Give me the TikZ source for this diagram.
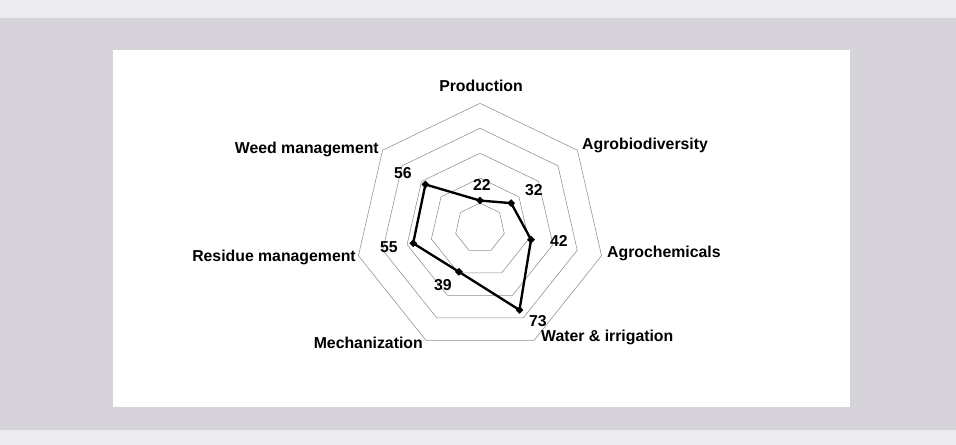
\documentclass[tikz,border=0pt]{standalone}
\usepackage{fontspec}
\setmainfont{Liberation Sans}
\usetikzlibrary{shapes.geometric}

\definecolor{pagegray}{RGB}{214,211,218}
\definecolor{pagelight}{RGB}{236,235,239}

\tikzset{
  axislabel/.style={font=\fontsize{13.5}{16}\selectfont\bfseries, inner sep=0pt},
  vallabel/.style={font=\fontsize{13.5}{16}\selectfont\bfseries, inner sep=0pt},
  ring/.style={draw=black!45, line width=0.45pt},
  score/.style={line width=2pt, line join=round},
  datamark/.style={diamond, fill=black, inner sep=0pt, minimum size=0.24cm}
}

\begin{document}
\begin{tikzpicture}
% page and white plot area
\fill[pagelight] (-14.4,-6.51) rectangle (14.28,6.84);
\fill[pagegray] (-14.4,-6.06) rectangle (14.28,6.3);
\fill[white] (-11.01,-5.37) rectangle (11.1,5.34);
\useasboundingbox (-14.4,-6.51) rectangle (14.28,6.84);

% grid rings
\foreach \r in {1,...,5}
  \draw[ring] (90:{0.748*\r}) \foreach \a in {1,...,6} { -- ({90-\a*360/7}:{0.748*\r}) } -- cycle;

% scores
\foreach \v [count=\i] in {22,32,42,73,39,55,56}
  \coordinate (p\i) at ({90-(\i-1)*360/7}:{\v*0.0374});
\draw[score] (p1) -- (p2) -- (p3) -- (p4) -- (p5) -- (p6) -- (p7) -- cycle;
\foreach \i in {1,...,7}
  \node[datamark] (m\i) at (p\i) {};

% axis labels
\node[axislabel] (production) at (0.03,4.26) {Production};
\node[axislabel, anchor=west] (agrobio) at (3.06,2.49) {Agrobiodiversity};
\node[axislabel, anchor=west] (agrochem) at (3.81,-0.75) {Agrochemicals};
\node[axislabel, anchor=west] (water) at (1.83,-3.27) {Water \& irrigation};
\node[axislabel, anchor=east] (mechanization) at (-1.71,-3.45) {Mechanization};
\node[axislabel, anchor=east] (residue) at (-3.72,-0.87) {Residue management};
\node[axislabel, anchor=east] (weed) at (-3.03,2.37) {Weed management};

% values
\node[vallabel] (v1) at (0.06,1.29) {22};
\node[vallabel] (v2) at (1.62,1.14) {32};
\node[vallabel] (v3) at (2.37,-0.39) {42};
\node[vallabel] (v4) at (1.74,-2.79) {73};
\node[vallabel] (v5) at (-1.11,-1.71) {39};
\node[vallabel] (v6) at (-2.73,-0.57) {55};
\node[vallabel] (v7) at (-2.31,1.65) {56};
\end{tikzpicture}
\end{document}
